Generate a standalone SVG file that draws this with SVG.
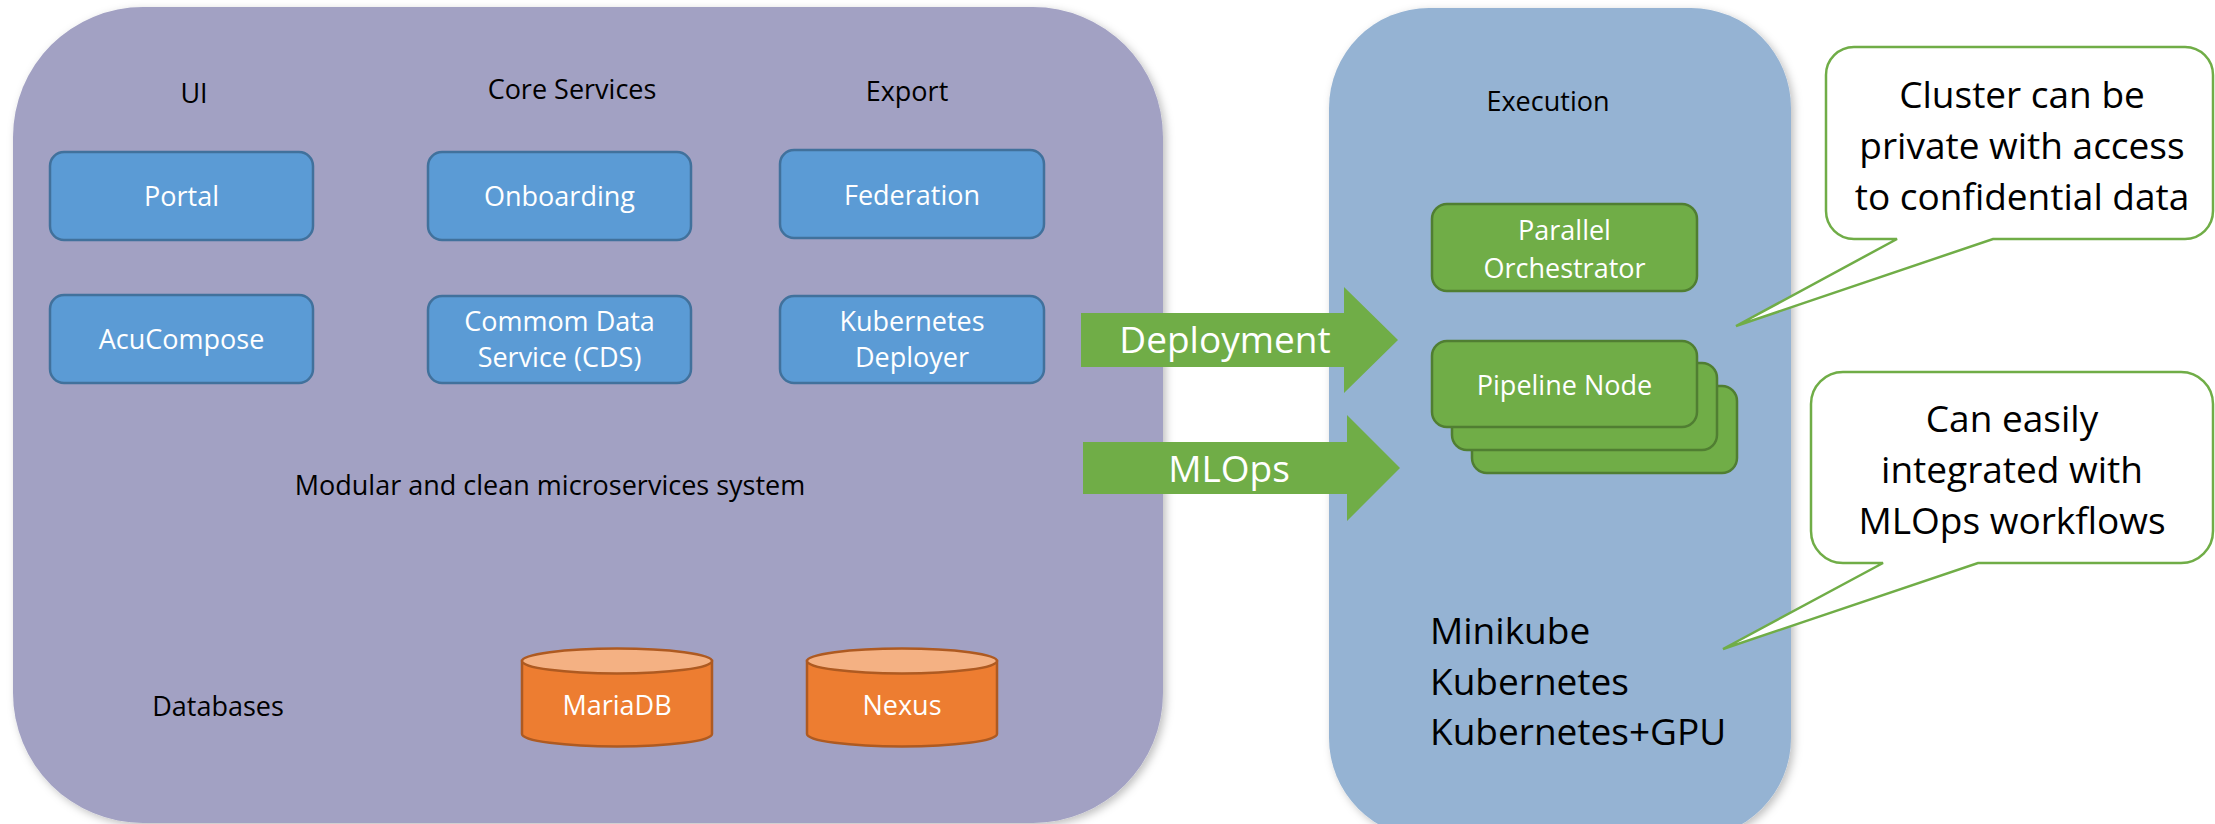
<svg xmlns="http://www.w3.org/2000/svg" width="2215" height="824" viewBox="0 0 2215 824">
<defs>
<filter id="sh" x="-5%" y="-5%" width="110%" height="110%">
<feDropShadow dx="3" dy="3" stdDeviation="4" flood-color="#000" flood-opacity="0.25"/>
</filter>
<style>
text{font-family:"Open Sans","Liberation Sans",sans-serif;text-anchor:middle}
.lbl{font-size:27px;fill:#000}
.wt{font-size:27px;fill:#fff}
.big{font-size:37px;fill:#000}
.bigw{font-size:37px;fill:#fff}
.box{fill:#5B9BD5;stroke:#41719C;stroke-width:2.5}
.gbox{fill:#70AD47;stroke:#507E32;stroke-width:2.5}
.cyl{fill:#ED7D31;stroke:#AE5A21;stroke-width:2.5}
.cyltop{fill:#F4B183;stroke:#AE5A21;stroke-width:2.5}
.call{fill:#fff;stroke:#70AD47;stroke-width:2.5}
.arr{fill:#70AD47}
</style>
</defs>
<rect width="2215" height="824" fill="#fff"/>

<g id="panel-system">
<rect x="13" y="7" width="1150" height="816" rx="130" ry="130" fill="#A2A1C3" filter="url(#sh)"/>
<text class="lbl" x="194" y="103">UI</text>
<text class="lbl" x="572" y="99">Core Services</text>
<text class="lbl" x="907" y="101">Export</text>
<text class="lbl" x="550" y="495">Modular and clean microservices system</text>
<text class="lbl" x="218" y="716">Databases</text>
</g>

<g id="panel-execution">
<rect x="1329" y="8" width="462" height="830" rx="100" ry="100" fill="#95B3D3" filter="url(#sh)"/>
<text class="lbl" x="1548" y="111">Execution</text>
<text class="big" x="1430" y="644" style="text-anchor:start">Minikube</text>
<text class="big" x="1430" y="695" style="text-anchor:start">Kubernetes</text>
<text class="big" x="1430" y="745" style="text-anchor:start">Kubernetes+GPU</text>
</g>

<g id="node-portal">
<rect class="box" x="50" y="152" width="263" height="88" rx="14"/>
<text class="wt" x="181.5" y="206">Portal</text>
</g>
<g id="node-onboarding">
<rect class="box" x="428" y="152" width="263" height="88" rx="14"/>
<text class="wt" x="559.5" y="206">Onboarding</text>
</g>
<g id="node-federation">
<rect class="box" x="780" y="150" width="264" height="88" rx="14"/>
<text class="wt" x="912" y="205">Federation</text>
</g>
<g id="node-acucompose">
<rect class="box" x="50" y="295" width="263" height="88" rx="14"/>
<text class="wt" x="181.5" y="349">AcuCompose</text>
</g>
<g id="node-cds">
<rect class="box" x="428" y="296" width="263" height="87" rx="14"/>
<text class="wt" x="559.5" y="331">Commom Data</text>
<text class="wt" x="559.5" y="367">Service (CDS)</text>
</g>
<g id="node-k8s-deployer">
<rect class="box" x="780" y="296" width="264" height="87" rx="14"/>
<text class="wt" x="912" y="331">Kubernetes</text>
<text class="wt" x="912" y="367">Deployer</text>
</g>

<g id="node-mariadb">
<path class="cyl" d="M522 661 V734 A95 12.5 0 0 0 712 734 V661 Z"/>
<ellipse class="cyltop" cx="617" cy="661" rx="95" ry="12.5"/>
<text class="wt" x="617" y="715">MariaDB</text>
</g>
<g id="node-nexus">
<path class="cyl" d="M807 661 V734 A95 12.5 0 0 0 997 734 V661 Z"/>
<ellipse class="cyltop" cx="902" cy="661" rx="95" ry="12.5"/>
<text class="wt" x="902" y="715">Nexus</text>
</g>

<g id="node-parallel-orchestrator">
<rect class="gbox" x="1432" y="204" width="265" height="87" rx="15"/>
<text class="wt" x="1564.5" y="240">Parallel</text>
<text class="wt" x="1564.5" y="278">Orchestrator</text>
</g>
<g id="node-pipeline">
<rect class="gbox" x="1472" y="386" width="265" height="87" rx="15"/>
<rect class="gbox" x="1452" y="363" width="265" height="87" rx="15"/>
<rect class="gbox" x="1432" y="341" width="265" height="86" rx="15"/>
<text class="wt" x="1564.5" y="395">Pipeline Node</text>
</g>

<g id="connectors">
<g id="arrow-deployment">
<path class="arr" d="M1081 313 H1344 V287 L1398 340 L1344 393 V367 H1081 Z"/>
<text class="bigw" x="1225" y="353">Deployment</text>
</g>
<g id="arrow-mlops">
<path class="arr" d="M1083 442 H1347 V415 L1400 468 L1347 521 V494 H1083 Z"/>
<text class="bigw" x="1229" y="482">MLOps</text>
</g>
</g>

<g id="callout-private">
<path class="call" d="M1854 47 H2185 A28 28 0 0 1 2213 75 V211 A28 28 0 0 1 2185 239 H1993 L1736 326 L1897 239 H1854 A28 28 0 0 1 1826 211 V75 A28 28 0 0 1 1854 47 Z"/>
<text class="big" x="2022" y="108">Cluster can be</text>
<text class="big" x="2022" y="159">private with access</text>
<text class="big" x="2022" y="210">to confidential data</text>
</g>
<g id="callout-mlops">
<path class="call" d="M1843 372 H2181 A32 32 0 0 1 2213 404 V531 A32 32 0 0 1 2181 563 H1978 L1723 649 L1883 563 H1843 A32 32 0 0 1 1811 531 V404 A32 32 0 0 1 1843 372 Z"/>
<text class="big" x="2012" y="432">Can easily</text>
<text class="big" x="2012" y="483">integrated with</text>
<text class="big" x="2012" y="534">MLOps workflows</text>
</g>
</svg>
